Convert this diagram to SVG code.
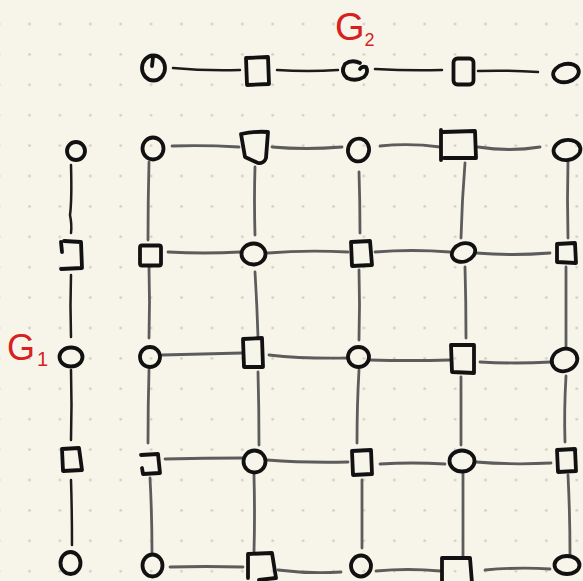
<svg xmlns="http://www.w3.org/2000/svg" width="583" height="581" viewBox="0 0 583 581">
<defs>
<pattern id="dots" x="14.3" y="8.8" width="30.4" height="30.4" patternUnits="userSpaceOnUse">
<circle cx="15.2" cy="15.2" r="1.3" fill="#cdcbc0"/>
</pattern>
<style>
.n{fill:none;stroke:#111;stroke-width:3.8;stroke-linejoin:round;stroke-linecap:round}
.e{fill:none;stroke:#5c5c5c;stroke-width:2.8;stroke-linecap:round}
.d{fill:none;stroke:#1c1c1c;stroke-width:2.5;stroke-linecap:round}
.lab{fill:#d8201e;font-family:"Liberation Sans",Arial,sans-serif}
</style>
</defs>
<rect width="583" height="581" fill="#f7f5ea"/>
<rect width="583" height="581" fill="url(#dots)"/>

<g id="connectors">
<!-- G2 row -->
<path class="d" d="M173,68 Q205,71 240,70"/>
<path class="d" d="M277,70 Q308,72 338,70"/>
<path class="d" d="M375,69 Q410,71 442,70"/>
<path class="d" d="M478,71 Q508,70 538,72"/>
<!-- G1 column -->
<path class="d" d="M71,165 Q72,200 70,215 Q72,225 71,233"/>
<path class="d" d="M71,275 Q70,305 71,337"/>
<path class="d" d="M71,370 Q72,405 71,440"/>
<path class="d" d="M71,480 Q72,512 72,545"/>
<!-- grid rows -->
<path class="e" d="M172,146 Q205,145 239,147"/>
<path class="e" d="M272,147 Q305,150 342,147"/>
<path class="e" d="M380,146 Q410,143 440,147"/>
<path class="e" d="M478,147 Q510,152 540,147"/>

<path class="e" d="M168,252 Q205,254 240,252"/>
<path class="e" d="M268,253 Q305,250 348,252"/>
<path class="e" d="M375,252 Q412,249 450,252"/>
<path class="e" d="M476,253 Q512,256 550,253"/>

<path class="e" d="M162,355 Q200,354 242,353"/>
<path class="e" d="M269,355 Q305,359 348,358"/>
<path class="e" d="M370,360 Q410,361 450,360"/>
<path class="e" d="M480,362 Q515,364 551,362"/>

<path class="e" d="M165,459 Q205,458 242,458"/>
<path class="e" d="M267,460 Q305,463 348,462"/>
<path class="e" d="M380,464 Q412,462 445,464"/>
<path class="e" d="M476,462 Q512,465 551,463"/>

<path class="e" d="M170,567 Q205,566 243,567"/>
<path class="e" d="M278,570 Q310,574 341,572"/>
<path class="e" d="M376,571 Q408,568 440,571"/>
<path class="e" d="M485,570 Q518,567 550,569"/>
<!-- grid columns -->
<path class="e" d="M149,162 Q148,200 148,240"/>
<path class="e" d="M149,267 Q150,302 149,338"/>
<path class="e" d="M149,370 Q148,405 148,443"/>
<path class="e" d="M150,478 Q152,515 152,552"/>

<path class="e" d="M255,167 Q254,200 255,235"/>
<path class="e" d="M255,272 Q257,305 258,337"/>
<path class="e" d="M258,372 Q259,408 259,445"/>
<path class="e" d="M254,475 Q255,515 254,552"/>

<path class="e" d="M359,172 Q360,202 360,233"/>
<path class="e" d="M359,270 Q360,305 359,340"/>
<path class="e" d="M359,370 Q357,405 357,443"/>
<path class="e" d="M362,480 Q362,515 362,548"/>

<path class="e" d="M465,163 Q462,200 461,238"/>
<path class="e" d="M465,267 Q466,302 466,338"/>
<path class="e" d="M461,377 Q461,410 461,445"/>
<path class="e" d="M463,473 Q463,515 463,558"/>

<path class="e" d="M568,160 Q567,200 568,238"/>
<path class="e" d="M566,267 Q566,305 566,347"/>
<path class="e" d="M566,376 Q564,410 565,442"/>
<path class="e" d="M568,475 Q570,515 570,555"/>
</g>

<g id="G2">
<g id="a1"><ellipse class="n" cx="153.5" cy="68" rx="11.5" ry="12.5"/><path class="n" d="M153,57 L152,66"/></g>
<g id="a2"><path class="n" d="M246,58 L268,57 L269,84 L247,85 Z"/></g>
<g id="a3"><path class="n" d="M360,63 Q352,59 345,64 Q340,72 347,78 Q356,82 364,77 Q369,72 366,67 Q362,66 360,69"/></g>
<g id="a4"><rect class="n" x="453.5" y="58.5" width="20" height="26" rx="4"/></g>
<g id="a5"><ellipse class="n" cx="566" cy="73" rx="13" ry="9" transform="rotate(-12 566 73)"/></g>
</g>

<g id="G1">
<g id="b1"><circle class="n" cx="76" cy="151" r="9"/></g>
<g id="b2"><path class="n" d="M61,242 L62,252 M64,241 L81,242 L82,268 L61,269"/></g>
<g id="b3"><ellipse class="n" cx="71" cy="357" rx="11.5" ry="9.5"/></g>
<g id="b4"><path class="n" d="M62,449 L79,448 L82,470 L63,471 Z"/></g>
<g id="b5"><ellipse class="n" cx="70.5" cy="563" rx="10" ry="11"/></g>
<text class="lab" x="7" y="360" font-size="36">G<tspan font-size="20" dx="2" dy="6">1</tspan></text>
</g>
<text class="lab" x="335" y="40" font-size="38" id="labelG2">G<tspan font-size="18" dy="6">2</tspan></text>

<g id="grid">
<g id="r1c1"><ellipse class="n" cx="153" cy="148.5" rx="10.5" ry="11"/></g>
<g id="r1c2"><path class="n" d="M241,134 Q255,131 268,132 L266,158 Q264,164 258,163 L245,157 Z"/></g>
<g id="r1c3"><ellipse class="n" cx="358.5" cy="150" rx="10.5" ry="11.5" transform="rotate(15 358.5 150)"/></g>
<g id="r1c4"><path class="n" d="M441,130 L441,160 M443,132 L475,131 L476,158 L444,158"/></g>
<g id="r1c5"><ellipse class="n" cx="567" cy="150" rx="13.5" ry="10" transform="rotate(-8 567 150)"/></g>

<g id="r2c1"><rect class="n" x="140" y="245.5" width="21" height="20" rx="2"/></g>
<g id="r2c2"><ellipse class="n" cx="253.5" cy="254" rx="12" ry="10.5"/></g>
<g id="r2c3"><path class="n" d="M351,242 L370,241 L372,265 L352,266 Z"/></g>
<g id="r2c4"><ellipse class="n" cx="463.5" cy="252.5" rx="12" ry="9" transform="rotate(-20 463.5 252.5)"/></g>
<g id="r2c5"><path class="n" d="M557,244 L575,243 L576,263 L557,262 Z"/></g>

<g id="r3c1"><circle class="n" cx="150" cy="357" r="10"/></g>
<g id="r3c2"><path class="n" d="M243,339 L262,338 L263,367 L244,367 Z"/></g>
<g id="r3c3"><ellipse class="n" cx="358.5" cy="357" rx="10.5" ry="10"/></g>
<g id="r3c4"><path class="n" d="M451,345 L474,345 L474,373 L452,372 Z"/></g>
<g id="r3c5"><ellipse class="n" cx="564.5" cy="360" rx="13" ry="11" transform="rotate(-20 564.5 360)"/></g>

<g id="r4c1"><path class="n" d="M141,455 L158,454 L160,473 L143,474 L142,468"/></g>
<g id="r4c2"><ellipse class="n" cx="254.5" cy="461.5" rx="11" ry="11"/></g>
<g id="r4c3"><path class="n" d="M352,451 L371,450 L372,474 L353,475 Z"/></g>
<g id="r4c4"><ellipse class="n" cx="462" cy="461" rx="12.5" ry="10.5"/></g>
<g id="r4c5"><path class="n" d="M557,450 L575,449 L576,471 L558,472 Z"/></g>

<g id="r5c1"><ellipse class="n" cx="152.5" cy="565.5" rx="10" ry="11"/></g>
<g id="r5c2"><path class="n" d="M248,578 L248,554 L272,553 L276,578 L259,580"/></g>
<g id="r5c3"><ellipse class="n" cx="361" cy="566" rx="10" ry="10.5"/></g>
<g id="r5c4"><path class="n" d="M442,583 L442,558 L470,558 L472,583"/></g>
<g id="r5c5"><ellipse class="n" cx="567" cy="565" rx="12.5" ry="9"/></g>
</g>
</svg>
